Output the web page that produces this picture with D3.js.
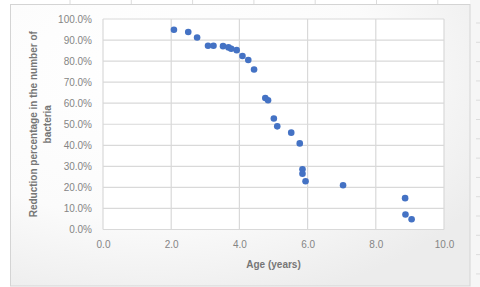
<!DOCTYPE html>
<html>
<head>
<meta charset="utf-8">
<script src="https://cdn.jsdelivr.net/npm/d3@7"></script>
<style>
  body { margin: 0; background: #fff; }
  svg { display: block; }
</style>
</head>
<body>
<svg id="chart"></svg>
<script>
// ages (years) and reduction percentage
const ages = [2.08, 2.5, 2.76, 3.08, 3.24, 3.52, 3.68, 3.76, 3.92, 4.09, 4.26, 4.43,
              4.76, 4.84, 5.01, 5.11, 5.52, 5.77, 5.85, 5.85, 5.94, 7.04, 8.86, 8.87, 9.05]
const reductions = [0.949, 0.938, 0.912, 0.873, 0.873, 0.871, 0.865, 0.859, 0.852, 0.824, 0.805, 0.760,
                    0.625, 0.614, 0.527, 0.490, 0.460, 0.409, 0.286, 0.265, 0.229, 0.210, 0.149, 0.071, 0.049]
const xTicks = [0, 2, 4, 6, 8, 10]
const yTicks = [0, 0.1, 0.2, 0.3, 0.4, 0.5, 0.6, 0.7, 0.8, 0.9, 1.0]

const width = 480
const height = 287
const plot = { left: 103, right: 444, top: 19, bottom: 229.5 }
const tickFont = '10px "Liberation Sans", Arial, sans-serif'
const titleFont = 'bold 10px "Liberation Sans", Arial, sans-serif'

const svg = d3.select('#chart')
  .attr('width', width)
  .attr('height', height)

// soft background like the screenshot
const defs = svg.append('defs')
const grad = defs.append('radialGradient')
  .attr('id', 'bg')
  .attr('cx', '30%').attr('cy', '25%').attr('r', '85%')
grad.append('stop').attr('offset', '0%').attr('stop-color', '#ffffff')
grad.append('stop').attr('offset', '60%').attr('stop-color', '#fbfbfb')
grad.append('stop').attr('offset', '100%').attr('stop-color', '#ececec')

svg.append('rect')
  .attr('x', 470).attr('y', 0).attr('width', 10).attr('height', height)
  .attr('fill', '#f6f6f6')

// spreadsheet column / row marks peeking out
const colMarks = d3.range(70, 470, 61.3)
svg.selectAll('.colmark').data(colMarks).join('line')
  .attr('x1', d => d).attr('x2', d => d)
  .attr('y1', 0).attr('y2', 4)
  .attr('stroke', '#dcdcdc')
const rowMarks = d3.range(23, 287, 19.3)
svg.selectAll('.rowmark').data(rowMarks).join('line')
  .attr('x1', 476).attr('x2', 480)
  .attr('y1', d => d).attr('y2', d => d)
  .attr('stroke', '#dcdcdc')

svg.append('rect')
  .attr('x', 10.5).attr('y', 4.5)
  .attr('width', 459.5).attr('height', 281.5)
  .attr('fill', 'url(#bg)')
  .attr('stroke', '#d4d4d4')

svg.append('rect')
  .attr('x', plot.left).attr('y', plot.top)
  .attr('width', plot.right - plot.left).attr('height', plot.bottom - plot.top)
  .attr('fill', '#ffffff')

const x = d3.scaleLinear().domain([0, 10]).range([plot.left, plot.right])
const y = d3.scaleLinear().domain([0, 1]).range([plot.bottom, plot.top])

// gridlines
const grid = svg.append('g')
  .attr('stroke', '#d9d9d9')
  .attr('stroke-width', 1.2)
grid.selectAll('.gy').data(yTicks).join('line')
  .attr('x1', plot.left).attr('x2', plot.right)
  .attr('y1', d => y(d)).attr('y2', d => y(d))
grid.selectAll('.gx').data(xTicks).join('line')
  .attr('x1', d => x(d)).attr('x2', d => x(d))
  .attr('y1', plot.top).attr('y2', plot.bottom)

// axes as text only
const yAxis = svg.append('g')
  .attr('transform', `translate(${plot.left},0)`)
  .call(d3.axisLeft(y).tickValues(yTicks).tickFormat(d3.format('.1%')).tickSize(0).tickPadding(11))
yAxis.select('.domain').remove()
yAxis.selectAll('text')
  .attr('fill', '#858585')
  .style('font', tickFont)

const xAxis = svg.append('g')
  .attr('transform', `translate(0,${plot.bottom})`)
  .call(d3.axisBottom(x).tickValues(xTicks).tickFormat(d3.format('.1f')).tickSize(0).tickPadding(11))
xAxis.select('.domain').remove()
xAxis.selectAll('text')
  .attr('fill', '#858585')
  .style('font', tickFont)

// points
svg.append('g')
  .selectAll('circle')
  .data(ages.map((a, i) => ({ age: a, red: reductions[i] })))
  .join('circle')
    .attr('cx', d => x(d.age))
    .attr('cy', d => y(d.red))
    .attr('r', 3.3)
    .attr('fill', '#4472c4')

// axis titles
svg.append('text')
  .attr('x', (plot.left + plot.right) / 2)
  .attr('y', 268)
  .attr('text-anchor', 'middle')
  .attr('fill', '#767676')
  .style('font', titleFont)
  .text('Age (years)')

const yTitle = svg.append('text')
  .attr('transform', `translate(37,${(plot.top + plot.bottom) / 2}) rotate(-90)`)
  .attr('text-anchor', 'middle')
  .attr('fill', '#767676')
  .style('font', titleFont)
yTitle.append('tspan').attr('x', 0).attr('dy', 0).text('Reduction percentage in the number of')
yTitle.append('tspan').attr('x', 0).attr('dy', 14).text('bacteria')
</script>
</body>
</html>
